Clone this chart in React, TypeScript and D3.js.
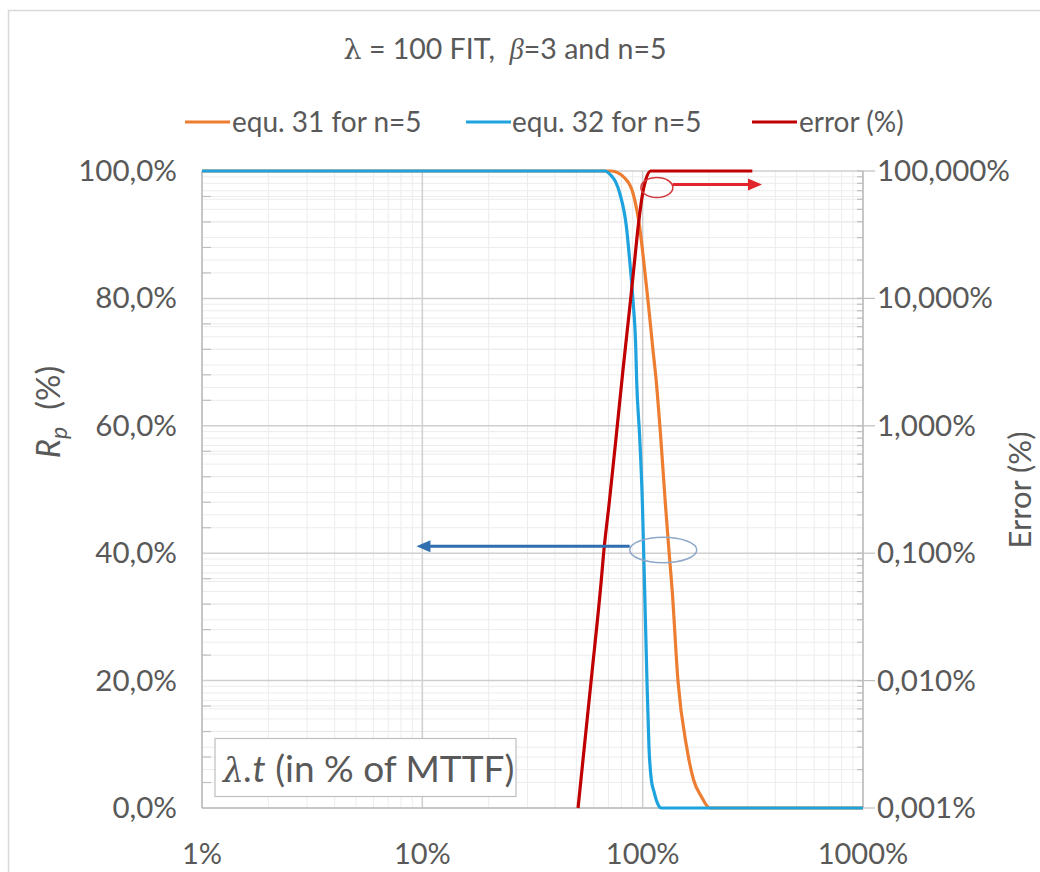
import React from 'react';
import * as d3 from 'd3';

const FONT = "Lato, 'Open Sans', sans-serif";
const TEXT = '#595959';

// Data (λ.t in % of MTTF)
const tEqu31 = [1, 72.1, 82.9, 90.4, 96.9, 101.0, 105.7, 111.0, 115.1, 120.7, 126.7, 131.9, 136.1, 144.6, 158.3, 170.3, 184.6, 201.3, 1000];
const rEqu31 = [100, 100, 98.9, 96.5, 91.2, 86.0, 79.7, 72.4, 67.2, 58.3, 47.9, 40.0, 34.2, 20.0, 9.6, 4.4, 1.8, 0, 0];

const tEqu32 = [1, 67.3, 72.3, 75.4, 78.7, 84.4, 87.3, 90.4, 93.0, 93.9, 96.9, 99.7, 101.1, 102.1, 104.6, 106.8, 109.5, 112.5, 115.4, 118.5, 121.6, 1000];
const rEqu32 = [100, 100, 99.2, 98.3, 96.5, 91.2, 86.0, 79.7, 72.4, 67.2, 58.3, 47.9, 40.0, 34.2, 20.0, 9.6, 4.4, 2.6, 1.2, 0.3, 0, 0];

const tError = [50.9, 58.4, 64.9, 66.5, 70.5, 75.8, 81.4, 88.1, 92.0, 95.4, 100, 103.2, 108.7, 314.5];
const eError = [0.001, 0.0101, 0.0616, 0.1, 0.248, 0.82, 2.74, 9.7, 20, 36.5, 66.8, 84.9, 100, 100];

const xTicks = [1, 10, 100, 1000];
const xTickLabels = ['1%', '10%', '100%', '1000%'];
const yLeftTicks = [0, 20, 40, 60, 80, 100];
const yLeftLabels = ['0,0%', '20,0%', '40,0%', '60,0%', '80,0%', '100,0%'];
const yRightTicks = [0.001, 0.01, 0.1, 1, 10, 100];
const yRightLabels = ['0,001%', '0,010%', '0,100%', '1,000%', '10,000%', '100,000%'];

const seriesNames = ['equ. 31 for n=5', 'equ. 32 for n=5', 'error (%)'];
const seriesColors = ['#ED7D31', '#1EA3DE', '#C00000'];

// annotation anchors in data units
const redEllipse = { t: 116, r: 97.4 };
const redArrow = { t0: 137, t1: 348, r: 97.9 };
const blueEllipse = { t: 124, r: 40.5 };
const blueArrow = { t0: 87.3, t1: 9.4, r: 41.1 };

export default function App() {
  const L = 202, R = 863, T = 171, B = 808;
  const x = d3.scaleLog().domain([1, 1000]).range([L, R]);
  const yL = d3.scaleLinear().domain([0, 100]).range([B, T]);
  const yR = d3.scaleLog().domain([0.001, 100]).range([B, T]);

  const lineL = d3.line<[number, number]>().x(d => x(d[0])).y(d => yL(d[1])).curve(d3.curveMonotoneX);
  const lineR = d3.line<[number, number]>().x(d => x(d[0])).y(d => yR(d[1])).curve(d3.curveMonotoneX);

  const d31 = lineL(tEqu31.map((t, i) => [t, rEqu31[i]] as [number, number])) || '';
  const d32 = lineL(tEqu32.map((t, i) => [t, rEqu32[i]] as [number, number])) || '';
  const dErr = lineR(tError.map((t, i) => [t, eError[i]] as [number, number])) || '';

  const xMinor: number[] = [];
  [1, 10, 100].forEach(dec => { for (let k = 2; k <= 9; k++) xMinor.push(dec * k); });
  const yRMinor: number[] = [];
  [0.001, 0.01, 0.1, 1, 10].forEach(dec => { for (let k = 2; k <= 9; k++) yRMinor.push(dec * k); });
  const yLMinor: number[] = [];
  for (let v = 4; v < 100; v += 4) if (v % 20 !== 0) yLMinor.push(v);

  const minorC = '#ececec';
  const majorC = '#cfcfcf';
  const axisC = '#bfbfbf';

  const legendItems = [
    { x: 185, tx: 232 },
    { x: 466, tx: 512 },
    { x: 752, tx: 799 },
  ];

  const rx0 = x(redArrow.t0), rx1 = x(redArrow.t1), ry = yL(redArrow.r);
  const bx0 = x(blueArrow.t0), bx1 = x(blueArrow.t1), by = yL(blueArrow.r);

  return (
    <svg width={1040} height={872} style={{ position: 'absolute', left: 0, top: 0, fontFamily: FONT }}>
      <defs>
        <clipPath id="plotClip"><rect x={L} y={T - 2} width={R - L} height={B - T + 4} /></clipPath>
      </defs>
      <rect x={0} y={0} width={1040} height={872} fill="#fff" />
      <rect x={8.5} y={10.5} width={1200} height={1000} fill="none" stroke="#d9d9d9" strokeWidth={1.5} />

      {/* title */}
      <text x={505} y={59} textAnchor="middle" fontSize={28.5} fill={TEXT} style={{ whiteSpace: 'pre' }}>
        <tspan fontFamily="'DejaVu Serif', serif">λ</tspan>
        <tspan>{' = 100 FIT,  '}</tspan>
        <tspan fontStyle="italic" fontFamily="'Liberation Serif', serif">β</tspan>
        <tspan>{'=3 and n=5'}</tspan>
      </text>

      {/* legend */}
      {legendItems.map((it, i) => (
        <g key={i}>
          <line x1={it.x} x2={it.x + 45} y1={122} y2={122} stroke={seriesColors[i]} strokeWidth={3} />
          <text x={it.tx} y={132} fontSize={28} fill={TEXT}>{seriesNames[i]}</text>
        </g>
      ))}

      {/* gridlines */}
      {yLMinor.map(v => <line key={'ylm' + v} x1={L} x2={R} y1={yL(v)} y2={yL(v)} stroke={minorC} strokeWidth={1} />)}
      {yRMinor.map(v => <line key={'yrm' + v} x1={L} x2={R} y1={yR(v)} y2={yR(v)} stroke={minorC} strokeWidth={1} />)}
      {xMinor.map(v => <line key={'xm' + v} x1={x(v)} x2={x(v)} y1={T} y2={B} stroke={minorC} strokeWidth={1} />)}
      {yLeftTicks.map(v => <line key={'ylM' + v} x1={L} x2={R} y1={yL(v)} y2={yL(v)} stroke={majorC} strokeWidth={1.5} />)}
      {xTicks.map(v => <line key={'xM' + v} x1={x(v)} x2={x(v)} y1={T} y2={B} stroke={majorC} strokeWidth={1.5} />)}

      {/* axes */}
      <line x1={L} x2={L} y1={T} y2={B} stroke={axisC} strokeWidth={1.5} />
      <line x1={R} x2={R} y1={T} y2={B} stroke={axisC} strokeWidth={1.5} />
      <line x1={L} x2={R} y1={B} y2={B} stroke={axisC} strokeWidth={1.5} />
      {yLMinor.map(v => <line key={'ylt' + v} x1={L} x2={L + 9} y1={yL(v)} y2={yL(v)} stroke={axisC} strokeWidth={1.2} />)}
      {yRMinor.map(v => <line key={'yrt' + v} x1={R - 6} x2={R} y1={yR(v)} y2={yR(v)} stroke={axisC} strokeWidth={1.2} />)}
      {yRightTicks.map(v => <line key={'yrT' + v} x1={R - 6} x2={R + 12} y1={yR(v)} y2={yR(v)} stroke={axisC} strokeWidth={1.2} />)}

      {/* tick labels */}
      {yLeftTicks.map((v, i) => (
        <text key={'yl' + v} x={177} y={yL(v) + 10} textAnchor="end" fontSize={29.5} fill={TEXT}>{yLeftLabels[i]}</text>
      ))}
      {yRightTicks.map((v, i) => (
        <text key={'yr' + v} x={877} y={yR(v) + 10} textAnchor="start" fontSize={29.5} fill={TEXT}>{yRightLabels[i]}</text>
      ))}
      {xTicks.map((v, i) => (
        <text key={'xt' + v} x={x(v)} y={864} textAnchor="middle" fontSize={29} fill={TEXT}>{xTickLabels[i]}</text>
      ))}

      {/* axis titles */}
      <text transform="translate(60,412) rotate(-90)" textAnchor="middle" fontSize={33} fill={TEXT} style={{ whiteSpace: 'pre' }}>
        <tspan fontStyle="italic">R</tspan>
        <tspan fontStyle="italic" fontSize={23} dy={7}>p</tspan>
        <tspan dy={-7}>{'  (%)'}</tspan>
      </text>
      <text transform="translate(1031,490) rotate(-90)" textAnchor="middle" fontSize={31} fill={TEXT} style={{ whiteSpace: 'pre' }}>Error (%)</text>

      {/* series */}
      <g clipPath="url(#plotClip)">
        <path d={d31} fill="none" stroke={seriesColors[0]} strokeWidth={3.2} strokeLinejoin="round" />
        <path d={d32} fill="none" stroke={seriesColors[1]} strokeWidth={3.2} strokeLinejoin="round" />
        <path d={dErr} fill="none" stroke={seriesColors[2]} strokeWidth={3.2} strokeLinejoin="round" />
      </g>

      {/* annotations */}
      <ellipse cx={x(redEllipse.t)} cy={yL(redEllipse.r)} rx={16} ry={10} fill="none" stroke="#D2393C" strokeWidth={1.5} />
      <line x1={rx0} x2={rx1 - 12} y1={ry} y2={ry} stroke="#E3262B" strokeWidth={3} />
      <path d={`M${rx1},${ry} L${rx1 - 14},${ry - 6} L${rx1 - 14},${ry + 6} Z`} fill="#E3262B" />

      <ellipse cx={x(blueEllipse.t)} cy={yL(blueEllipse.r)} rx={33.5} ry={12.8} fill="none" stroke="#8EA9C8" strokeWidth={1.5} />
      <line x1={bx0} x2={bx1 + 12} y1={by} y2={by} stroke="#2F6EAF" strokeWidth={3} />
      <path d={`M${bx1},${by} L${bx1 + 14},${by - 6} L${bx1 + 14},${by + 6} Z`} fill="#2F6EAF" />

      {/* axis label box */}
      <rect x={215} y={738.5} width={301} height={58} fill="#fff" stroke="#bfbfbf" strokeWidth={1.2} />
      <text x={223} y={782} fontSize={37} fill={TEXT} style={{ whiteSpace: 'pre' }}>
        <tspan fontStyle="italic" fontFamily="'DejaVu Serif', serif" fontSize={33}>λ</tspan>
        <tspan fontStyle="italic">.t</tspan>
        <tspan>{' (in % of MTTF)'}</tspan>
      </text>
    </svg>
  );
}
